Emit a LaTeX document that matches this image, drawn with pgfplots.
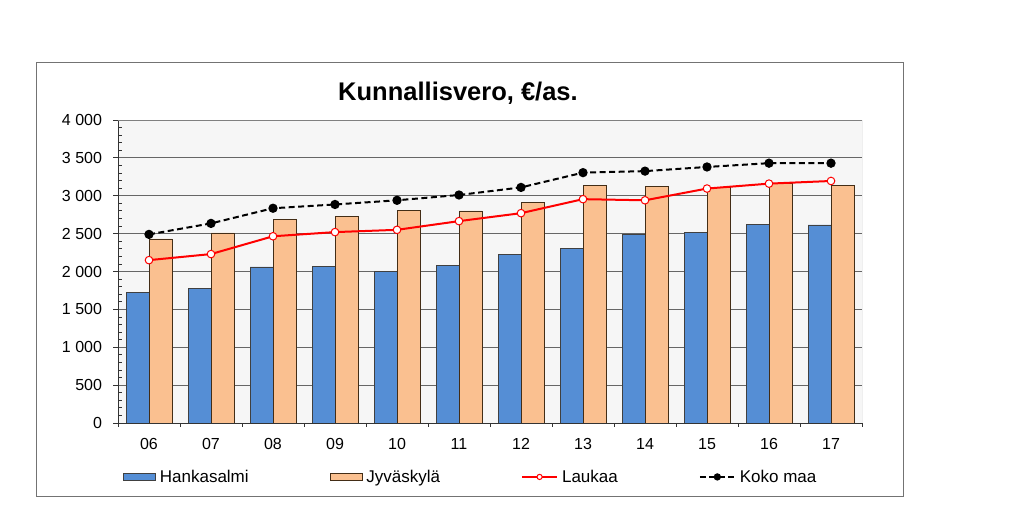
\documentclass[border=0pt]{standalone}
\usepackage{pgfplots}
\pgfplotsset{compat=1.18}
\usepackage{fontspec}
\setmainfont{Liberation Sans}
\definecolor{hblue}{RGB}{85,142,213}
\definecolor{jorange}{RGB}{250,192,144}
\definecolor{plotbg}{RGB}{246,246,246}
\pgfplotsset{
  barlegend/.style={legend image code/.code={\draw[##1] (0bp,-3.5bp) rectangle (32bp,3.5bp);}},
  linelegend/.style={legend image code/.code={\draw[mark repeat=2,mark phase=2,##1,mark size=2.6bp] plot coordinates {(0bp,0bp) (17.5bp,0bp) (35bp,0bp)};}},
}
\begin{document}
\begin{tikzpicture}
\useasboundingbox (0,0) rectangle (1024bp,512bp);
\fill[white] (0,0) rectangle (1024bp,512bp);
\draw[black!55, line width=1bp] (36bp,15bp) rectangle (903bp,449bp);
\node[anchor=base, font=\fontsize{25.5bp}{30bp}\selectfont\bfseries] at (458bp,411.3bp) {Kunnallisvero, €/as.};
\begin{axis}[
  at={(118bp,89bp)}, anchor=south west,
  scale only axis, width=744bp, height=303bp,
  xmin=-0.5, xmax=11.5, ymin=0, ymax=4000,
  axis lines*=left,
  axis line style={black!80, line width=0.9bp},
  axis background/.style={fill=plotbg},
  xtick={0,...,11},
  xticklabels={06,07,08,09,10,11,12,13,14,15,16,17},
  major x tick style={draw=none},
  minor xtick={-0.5,0.5,...,11.5},
  ytick={0,500,...,4000},
  minor y tick num=4,
  tick align=outside,
  major tick length=5bp,
  minor tick length=4bp,
  every tick/.style={black!80, line width=0.8bp},
  minor y tick style={xshift=4bp},
  ymajorgrids,
  major grid style={black!60, line width=0.8bp},
  tick label style={font=\fontsize{16bp}{19bp}\selectfont},
  /pgf/number format/assume math mode=true,
  /pgf/number format/1000 sep={~},
  scaled y ticks=false,
  yticklabel style={xshift=-7.5bp},
  xticklabel style={yshift=-6.5bp},
  legend columns=4,
  legend style={draw=none, fill=none, at={(0.0067,-0.178)}, anchor=west,
    inner sep=0pt, font=\fontsize{17bp}{20bp}\selectfont,
    nodes={inner sep=0pt},
    /tikz/every odd column/.append style={column sep=4bp},
    /tikz/every even column/.append style={column sep=81bp}},
]
\addplot[ybar, bar width=23bp, bar shift=-11.5bp, fill=hblue, draw=black!75, line width=0.7bp, barlegend]
  coordinates {(0,1720) (1,1780) (2,2060) (3,2070) (4,2005) (5,2085) (6,2230) (7,2310) (8,2495) (9,2520) (10,2625) (11,2615)};
\addlegendentry{Hankasalmi}
\addplot[ybar, bar width=23bp, bar shift=11.5bp, fill=jorange, draw=black!65!brown, line width=0.7bp, barlegend]
  coordinates {(0,2430) (1,2510) (2,2690) (3,2730) (4,2810) (5,2800) (6,2915) (7,3140) (8,3125) (9,3115) (10,3170) (11,3140)};
\addlegendentry{Jyväskylä}
\addplot[red, line width=2bp, mark=*, mark size=3.8bp, mark options={fill=white, draw=red, line width=1bp, solid}, linelegend]
  coordinates {(0,2150) (1,2230) (2,2465) (3,2520) (4,2550) (5,2665) (6,2770) (7,2955) (8,2940) (9,3095) (10,3160) (11,3195)};
\addlegendentry{Laukaa}
\addplot[black, line width=2bp, dash pattern=on 6bp off 3.5bp, mark=*, mark size=3.6bp, mark options={fill=black, solid}, linelegend]
  coordinates {(0,2490) (1,2635) (2,2835) (3,2885) (4,2940) (5,3010) (6,3110) (7,3305) (8,3325) (9,3380) (10,3430) (11,3430)};
\addlegendentry{Koko maa}
\draw[black!50, line width=0.9bp] (rel axis cs:0,1) -- (rel axis cs:1,1) -- (rel axis cs:1,0);
\end{axis}
\end{tikzpicture}
\end{document}
